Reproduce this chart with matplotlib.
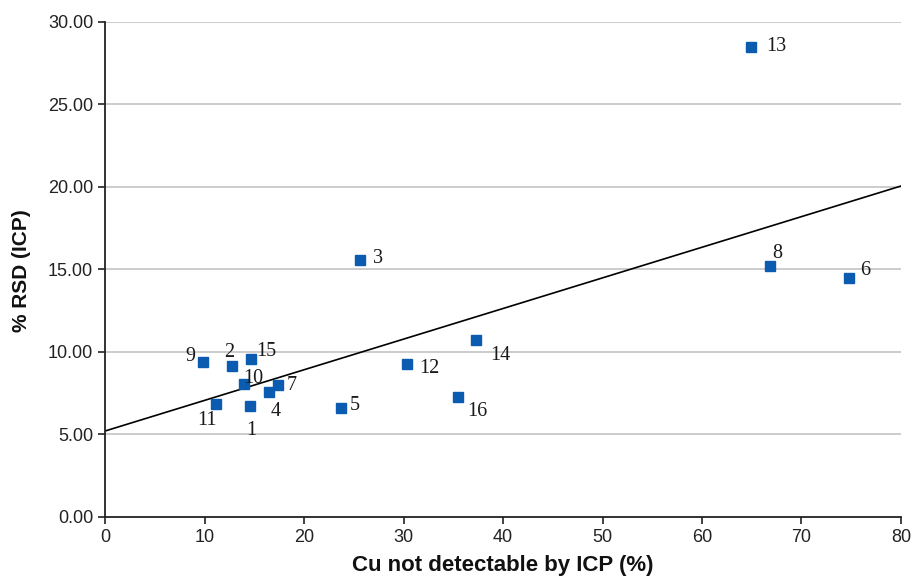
import numpy as np
import matplotlib
matplotlib.use("Agg")
import matplotlib.pyplot as plt

# sample number, Cu not detectable by ICP (%), %RSD (ICP)
labels = ["1", "2", "3", "4", "5", "6", "7", "8", "9", "10",
          "11", "12", "13", "14", "15", "16"]
cu_nd = [14.6, 12.8, 25.6, 16.5, 23.7, 74.8, 17.4, 66.8, 9.8, 14.0,
         11.2, 30.4, 64.9, 37.3, 14.7, 35.5]
rsd = [6.7, 9.15, 15.6, 7.6, 6.6, 14.5, 8.0, 15.2, 9.4, 8.05,
       6.85, 9.3, 28.5, 10.7, 9.55, 7.3]

# linear trendline as drawn in the original (intercept, slope)
trend_b = 5.21
trend_m = 0.1856

# label offsets in pixels (dx right, dy up)
offsets = {"1": (1, -24), "2": (-3, 14), "3": (18, 1), "4": (6, -20),
           "5": (14, 3), "6": (16, 7), "7": (14, -1), "8": (8, 13),
           "9": (-12, 5), "10": (9, 6), "11": (-10, -17), "12": (22, -5),
           "13": (26, 0), "14": (24, -15), "15": (15, 8), "16": (19, -15)}

plt.rcParams['font.family'] = ['Liberation Sans', 'DejaVu Sans']

fig = plt.figure(figsize=(9.11, 5.79), dpi=100)
ax = fig.add_axes([0.1153, 0.1071, 0.8737, 0.855])

ax.set_xlim(0, 80)
ax.set_ylim(0, 30)

# gridlines
for yv in np.arange(5, 31, 5):
    ax.axhline(yv, color="#c4c4c4", lw=1.2, zorder=0)

xl = np.array([0, 80])
ax.plot(xl, trend_b + trend_m * xl, color="black", lw=1.2, zorder=2)

ax.plot(cu_nd, rsd, ls="none", marker="s", ms=6.5, color="#0b5cb0",
        mec="#0b5cb0", zorder=3)

for lab, xv, yv in zip(labels, cu_nd, rsd):
    dx, dy = offsets[lab]
    ax.annotate(lab, (xv, yv), xytext=(dx * 0.72, dy * 0.72),
                textcoords="offset points", ha="center", va="center",
                fontsize=14.5, family="Liberation Serif", color="#1a1a1a")

ax.set_xticks(np.arange(0, 81, 10))
ax.set_yticks(np.arange(0, 31, 5))
ax.set_yticklabels(["%.2f" % v for v in np.arange(0, 31, 5)])
ax.tick_params(direction="out", length=5, width=1.2, labelsize=13,
               colors="#222222")

for s in ["top", "right"]:
    ax.spines[s].set_visible(False)
for s in ["left", "bottom"]:
    ax.spines[s].set_linewidth(1.3)
    ax.spines[s].set_color("#222222")

fig.text(503 / 911, 1 - 565 / 579, "Cu not detectable by ICP (%)",
         fontsize=16, fontweight="bold", ha="center", va="center",
         color="#111111")
fig.text(22 / 911, 1 - 271 / 579, "% RSD (ICP)", rotation=90,
         fontsize=15, fontweight="bold", ha="center", va="center",
         color="#111111")

fig.savefig("out.png", dpi=100)
